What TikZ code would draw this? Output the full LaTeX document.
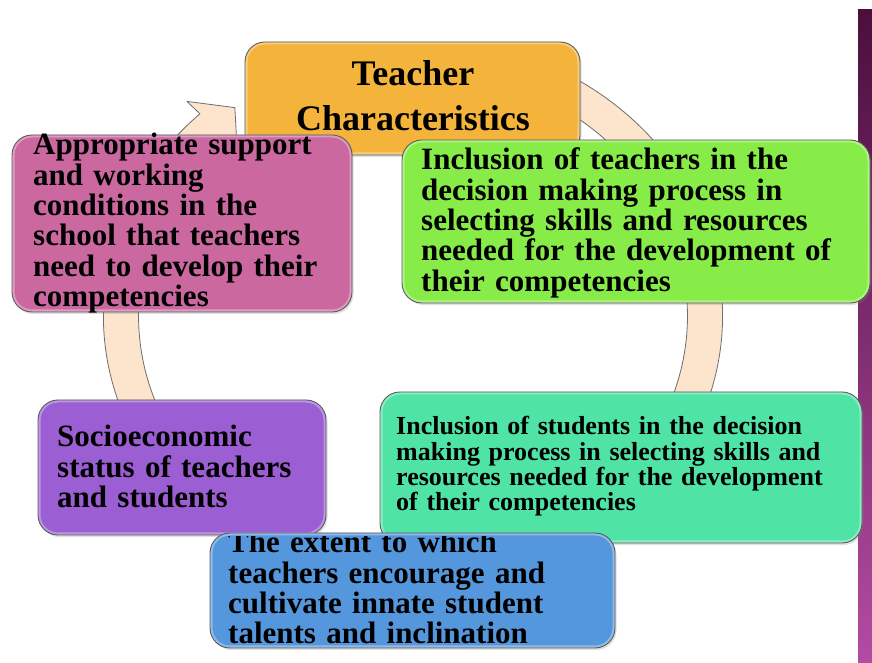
\documentclass[tikz,border=0pt]{standalone}
\usepackage{fontspec}
\setmainfont{Liberation Serif}
\usetikzlibrary{shadows}

\definecolor{ringfill}{HTML}{FDE4CC}
\definecolor{ringline}{HTML}{6E6E6E}
\definecolor{orangeC}{HTML}{F4B33A}
\definecolor{pinkC}{HTML}{CB68A0}
\definecolor{greenC}{HTML}{88EC48}
\definecolor{tealC}{HTML}{4FE3A6}
\definecolor{purpleC}{HTML}{9B5FD3}
\definecolor{blueC}{HTML}{5597DD}
\definecolor{barTop}{HTML}{4B0F3D}
\definecolor{barBottom}{HTML}{B34BA3}
\definecolor{edgeC}{HTML}{5A5A5A}

\tikzset{
  panel/.style={rounded corners=20pt, draw=edgeC, line width=0.9pt,
    inner sep=0pt, outer sep=0pt, anchor=north west,
    drop shadow={opacity=0.25, shadow xshift=1.5pt, shadow yshift=-2pt},
    path picture={
      \draw[white, opacity=0.35, line width=5pt, rounded corners=20pt]
        (path picture bounding box.south west) rectangle
        (path picture bounding box.north east);
    }},
  bigtext/.style={font=\bfseries\fontsize{31}{30.3}\selectfont,
    inner sep=0pt, anchor=base west, align=left},
  smalltext/.style={font=\bfseries\fontsize{26}{25.3}\selectfont,
    inner sep=0pt, anchor=base west, align=left},
  ringband/.style={fill=ringfill, draw=ringline, line width=0.8pt, line join=round}
}

\begin{document}
\begin{tikzpicture}[x=1pt, y=1pt]
  \useasboundingbox (0,0) rectangle (872,663);
  \fill[white] (0,0) rectangle (872,663);

  % side bar on the right
  \shade[top color=barTop, bottom color=barBottom] (858,0) rectangle (872,653);

  % circular block arrow running clockwise behind the boxes
  \begin{scope}[shift={(413,347)}, xscale=292, yscale=263]
    \path[ringband]
      (75:1.06) arc[start angle=75, end angle=-226.5, radius=1.06]
      -- (133.5:1.125) -- (127.6:1.0) -- (133.5:0.875)
      -- (133.5:0.94) arc[start angle=133.5, end angle=435, radius=0.94]
      -- cycle;
  \end{scope}

  % boxes
  \node[panel, fill=orangeC, minimum width=335pt, minimum height=113pt] (orangebox) at (245,621) {};
  \node[font=\bfseries\fontsize{36}{45}\selectfont, text width=320pt, align=center,
        inner sep=0pt, anchor=base] (orangetxt) at (413,577) {Teacher\\Characteristics};

  \node[panel, fill=pinkC, minimum width=340pt, minimum height=177pt] (pinkbox) at (12,528) {};
  \node[bigtext, text width=330pt] (pinktxt) at (33,508)
    {Appropriate support\\and working\\conditions in the\\school that teachers\\need to develop their\\competencies};

  \node[panel, fill=greenC, minimum width=468pt, minimum height=163pt] (greenbox) at (402,523) {};
  \node[bigtext, text width=440pt] (greentxt) at (421,493)
    {Inclusion of teachers in the\\decision making process in\\selecting skills and resources\\needed for the development of\\their competencies};

  \node[panel, fill=tealC, minimum width=482pt, minimum height=151pt] (tealbox) at (380,271) {};
  \node[smalltext, text width=460pt] (tealtxt) at (396,228)
    {Inclusion of students in the decision\\making process in selecting skills and\\resources needed for the development\\of their competencies};

  \node[panel, fill=purpleC, minimum width=288pt, minimum height=135pt] (purplebox) at (38,263) {};
  \node[bigtext, text width=270pt] (purpletxt) at (57,216)
    {Socioeconomic\\status of teachers\\and students};

  \node[panel, fill=blueC, minimum width=405pt, minimum height=115pt] (bluebox) at (210,130) {};
  % the first line of this text is cut off at the top of the box
  \begin{scope}
    \clip (200,0) rectangle (640,126);
    \node[bigtext, text width=390pt] (bluetxt) at (228,110)
      {The extent to which\\teachers encourage and\\cultivate innate student\\talents and inclination};
  \end{scope}
\end{tikzpicture}
\end{document}
